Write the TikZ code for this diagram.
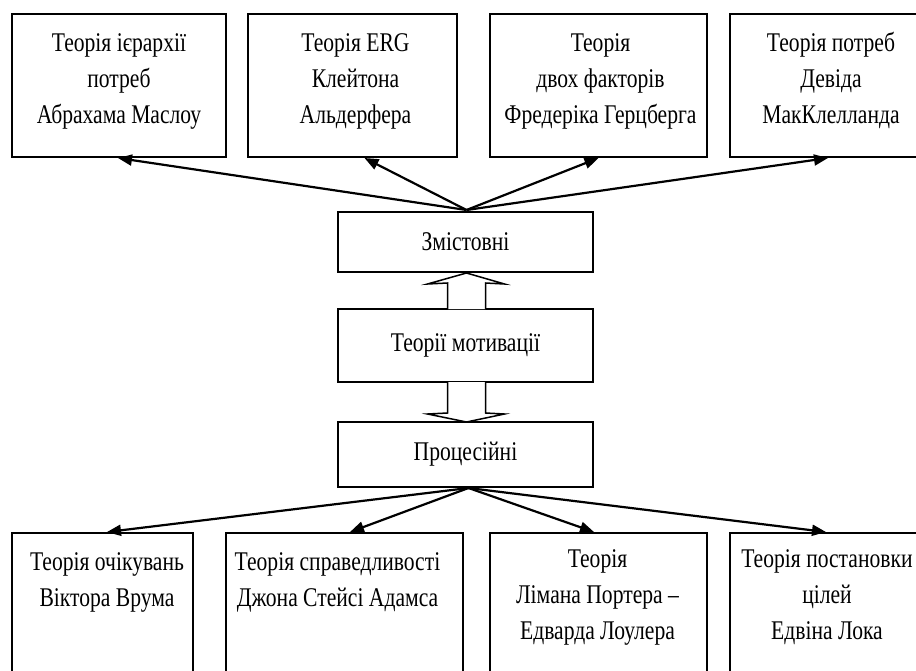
\documentclass[tikz,border=0pt]{standalone}
\usepackage{fontspec}
\setmainfont{Liberation Serif}[FakeStretch=0.8]
\usetikzlibrary{arrows.meta,calc}
\begin{document}
\begin{tikzpicture}[x=1pt,y=-1pt,
  box/.style={draw, line width=1.6pt, inner sep=0pt, outer sep=0pt, anchor=north west},
  mid/.style={draw, line width=1.6pt, inner sep=0pt, outer sep=0pt, minimum width=255pt,
    anchor=north west, font=\fontsize{27}{36}\selectfont},
  lbl/.style={align=center, font=\fontsize{27}{36}\selectfont, inner sep=0pt, anchor=base},
  arr/.style={line width=2.2pt, -{Triangle[length=14pt,width=11pt]}},
  hollow/.style={line width=1.5pt, fill=white, line join=miter}]
\useasboundingbox (0,0) rectangle (916,670);
\clip (0,0) rectangle (916,670);
\fill[white] (0,0) rectangle (916,670);

% top boxes
\node[box, minimum width=214pt, minimum height=143pt] (T1) at (12,14) {};
\node[box, minimum width=209pt, minimum height=143pt] (T2) at (248,14) {};
\node[box, minimum width=217pt, minimum height=143pt] (T3) at (490,14) {};
\node[box, minimum width=202pt, minimum height=143pt] (T4) at (730,14) {};
\node[lbl] (t1) at ($(T1.north)+(0,109)$) {Теорія ієрархії\\потреб\\Абрахама Маслоу};
\node[lbl] (t2) at ($(T2.north)+(3,109)$) {Теорія ERG\\Клейтона\\Альдерфера};
\node[lbl] (t3) at ($(T3.north)+(2,109)$) {Теорія\\двох факторів\\Фредеріка Герцберга};
\node[lbl] (t4) at ($(T4.north)+(0,109)$) {Теорія потреб\\Девіда\\МакКлелланда};

% middle boxes
\node[mid, minimum height=60pt] (Z) at (338,212) {Змістовні};
\node[mid, minimum height=73pt] (M) at (338,309) {Теорії мотивації};
\node[mid, minimum height=65pt] (P) at (338,422) {Процесійні};

% bottom boxes
\node[box, minimum width=181pt, minimum height=167pt] (B1) at (12,533) {};
\node[box, minimum width=237pt, minimum height=167pt] (B2) at (226,533) {};
\node[box, minimum width=217pt, minimum height=167pt] (B3) at (490,533) {};
\node[box, minimum width=194pt, minimum height=167pt] (B4) at (730,533) {};
\node[lbl] (b1) at ($(B1.north)+(4.5,73)$) {Теорія очікувань\\Віктора Врума};
\node[lbl] (b2) at ($(B2.north)+(-7,73)$) {Теорія справедливості\\Джона Стейсі Адамса};
\node[lbl] (b3) at ($(B3.north)+(-1,106)$) {Теорія\\Лімана Портера –\\Едварда Лоулера};
\node[lbl] (b4) at ($(B4.north)+(0,106)$) {Теорія постановки\\цілей\\Едвіна Лока};

% arrows up
\coordinate (zs) at ($(Z.north)+(1,-2)$);
\draw[arr] (zs) -- ($(T1.south)+(-1,1)$);
\draw[arr] (zs) -- ($(T2.south)+(12,1)$);
\draw[arr] (zs) -- ($(T3.south)+(0,1)$);
\draw[arr] (zs) -- ($(T4.south)+(-3,1)$);

% arrows down
\coordinate (ps) at ($(P.south)+(3,1)$);
\draw[arr] (ps) -- ($(B1.north)+(4.5,-1)$);
\draw[arr] (ps) -- ($(B2.north)+(5.5,-1)$);
\draw[arr] (ps) -- ($(B3.north)+(-4.5,-1)$);
\draw[arr] (ps) -- ($(B4.north)+(-1,-1)$);

% hollow arrows
\begin{scope}[shift={(M.north)}]
\draw[hollow] (-18,0) -- (-18,-26) -- (-38,-25) -- (1,-36) -- (39,-25) -- (20,-26) -- (20,0);
\end{scope}
\begin{scope}[shift={(M.south)}]
\draw[hollow] (-18,0) -- (-18,31) -- (-38,32) -- (1,40) -- (39,32) -- (20,31) -- (20,0);
\end{scope}
\end{tikzpicture}
\end{document}
